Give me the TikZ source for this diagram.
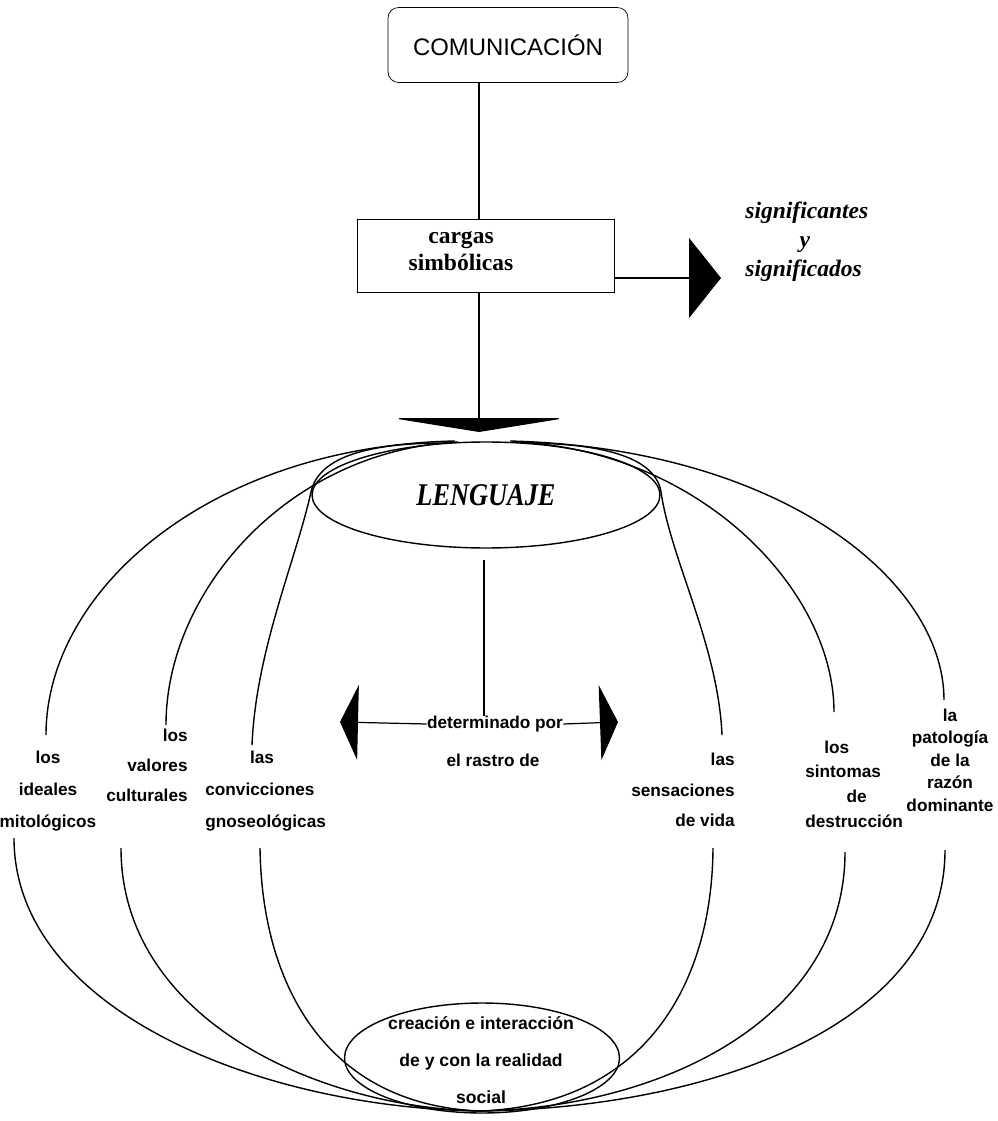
\documentclass[tikz,border=0pt]{standalone}
\usepackage{fontspec}
\setmainfont{Liberation Serif}
\setsansfont{Liberation Sans}
\usetikzlibrary{arrows.meta,shapes.geometric}

\begin{document}
\begin{tikzpicture}[x=0.02cm, y=-0.02cm,
        rbox/.style={rectangle, draw, rounded corners=6pt,
                     minimum width=4.8cm, minimum height=1.5cm,
                     font=\sffamily\fontsize{13.6}{16}\selectfont},
        sbox/.style={rectangle, draw, minimum width=5.14cm, minimum height=1.46cm},
        oval/.style={ellipse, draw, inner sep=0pt, line width=0.8pt},
        lbl/.style={font=\sffamily\bfseries\fontsize{9.8}{18}\selectfont, inner sep=0pt},
        ser/.style={font=\bfseries\fontsize{13.4}{15}\selectfont, inner sep=0pt},
        ln/.style={line width=0.7pt},
        arc/.style={line width=0.8pt},
      ]
        \useasboundingbox (0,0) rectangle (997,1121);

        \node[rbox] (com) at (508,45) {COMUNICACIÓN};
        \node[sbox] (carg) at (486,256) {};
        \node[ser, align=center] (cargt) at (461,251) {cargas\\simbólicas};
        \node[ser, font=\bfseries\itshape\fontsize{13.4}{16.5}\selectfont,
              align=left, anchor=west] (sig) at (745,242)
              {significantes\\\hspace*{2.3em}y\\significados};

        \coordinate (sigtip) at (721,278);
        \coordinate (lentip) at (479,432);
        \draw[ln] (com.south -| lentip) -- (carg.north -| lentip);
        \draw[ln, -{Triangle[width=1.6cm,length=0.64cm]}] (carg.east |- sigtip) -- (sigtip);
        \draw[ln, -{Triangle[width=3.5cm,length=0.28cm]}] (carg.south -| lentip) -- (lentip);

        % lenguaje y su eje
        \node[oval, minimum width=6.96cm, minimum height=2.12cm,
              font=\bfseries\itshape\fontsize{15}{18}\selectfont] (leng) at (486,495)
              {\scalebox{1}[1.2]{LENGUAJE}};
        \node[lbl] (det) at (495,724) {determinado por};
        \node[lbl] (ras) at (493,760) {el rastro de};
        \coordinate (vtop) at (484,560);
        \coordinate (ltip) at (340,722);
        \coordinate (rtip) at (618,722);
        \draw[ln] (vtop) -- (vtop |- det.north);
        \draw[ln, -{Triangle[width=1.5cm,length=0.36cm]}] (det.west) -- (ltip);
        \draw[ln, -{Triangle[width=1.5cm,length=0.36cm]}] (det.east) -- (rtip);

        \node[oval, minimum width=5.5cm, minimum height=2.2cm] (soc) at (482,1058) {};
        \node[lbl, align=center, font=\sffamily\bfseries\fontsize{10}{21}\selectfont]
              (soct) at (481,1060) {creación e interacción\\de y con la realidad\\social};

        % etiquetas
        \node[lbl, align=center] (mit) at (48,791) {los\\ideales\\mitológicos};
        \node[lbl, align=right, anchor=east, font=\sffamily\bfseries\fontsize{9.8}{17}\selectfont]
              (cul) at (188,765) {los\\valores\\culturales};
        \node[lbl, align=left, anchor=west] (gno) at (205,791)
              {\hspace*{2.6em}las\\convicciones\\gnoseológicas};
        \node[lbl, align=right, anchor=east, font=\sffamily\bfseries\fontsize{9.8}{17.5}\selectfont]
              (vid) at (735,790) {las\\sensaciones\\de vida};
        \node[lbl, align=left, anchor=west, font=\sffamily\bfseries\fontsize{9.8}{14}\selectfont]
              (des) at (805,784) {\hspace*{1.1em}los\\sintomas\\\hspace*{2.4em}de\\destrucción};
        \node[lbl, align=center, font=\sffamily\bfseries\fontsize{9.8}{12.8}\selectfont]
              (dom) at (950,760) {la\\patología\\de la\\razón\\dominante};

        % meridianos superiores
        \draw[arc] (455,441) .. controls (210,446) and (46,590) .. (46,735);
        \draw[arc] (458,442) .. controls (290,450) and (166,590) .. (166,725);
        \draw[arc] (445,443) .. controls (360,443) and (318,460) .. (311,492)
                   .. controls (296,560) and (256,650) .. (252,745);
        \draw[arc] (522,443) .. controls (610,443) and (656,460) .. (661,492)
                   .. controls (671,560) and (718,645) .. (722,735);
        \draw[arc] (515,442) .. controls (700,450) and (834,590) .. (834,712);
        \draw[arc] (510,441) .. controls (780,448) and (944,580) .. (944,700);
        % meridianos inferiores
        \draw[arc] (14,838) .. controls (14,1010) and (260,1108) .. (480,1111);
        \draw[arc] (121,848) .. controls (121,1020) and (320,1108) .. (480,1111);
        \draw[arc] (260,848) .. controls (262,990) and (330,1105) .. (480,1111);
        \draw[arc] (713,848) .. controls (712,990) and (640,1105) .. (480,1111);
        \draw[arc] (845,852) .. controls (845,1020) and (660,1108) .. (480,1111);
        \draw[arc] (945,850) .. controls (945,1020) and (720,1108) .. (480,1111);
      \end{tikzpicture}
\end{document}
